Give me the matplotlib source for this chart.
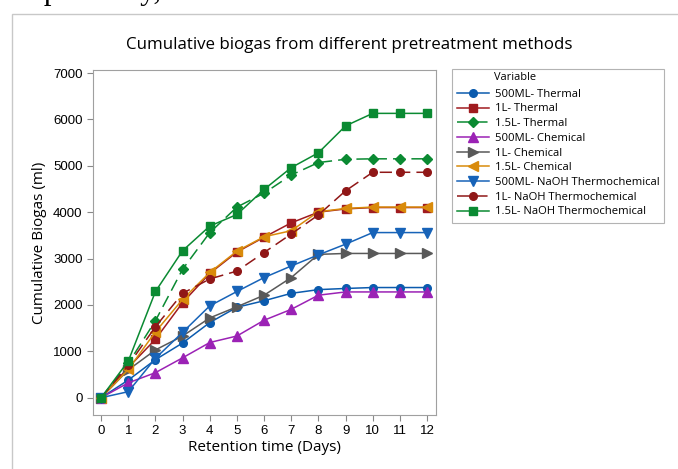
import numpy as np
import matplotlib.pyplot as plt
from matplotlib.patches import Rectangle

# retention time (days)
days = list(range(13))

# cumulative biogas (ml)
thermal_500 = [0, 380, 820, 1180, 1620, 1950, 2090, 2250, 2330, 2355, 2375, 2375, 2375]
thermal_1l = [0, 650, 1260, 2050, 2680, 3140, 3460, 3770, 4000, 4070, 4100, 4100, 4100]
thermal_15l = [0, 740, 1660, 2770, 3560, 4110, 4410, 4800, 5070, 5140, 5150, 5150, 5150]
chem_500 = [0, 320, 540, 860, 1190, 1330, 1670, 1905, 2210, 2280, 2280, 2280, 2280]
chem_1l = [0, 600, 1030, 1330, 1720, 1960, 2210, 2590, 3090, 3110, 3110, 3110, 3110]
chem_15l = [0, 610, 1420, 2120, 2700, 3160, 3470, 3600, 4010, 4080, 4110, 4110, 4110]
naoh_500 = [0, 130, 850, 1410, 1980, 2290, 2590, 2840, 3080, 3310, 3560, 3560, 3560]
naoh_1l = [0, 700, 1530, 2250, 2560, 2730, 3130, 3530, 3940, 4460, 4860, 4860, 4860]
naoh_15l = [0, 790, 2290, 3170, 3700, 3950, 4490, 4960, 5280, 5860, 6130, 6130, 6130]

series = [
    ('500ML- Thermal', thermal_500, '#0B5BAE', 'o', '-'),
    ('1L- Thermal', thermal_1l, '#A01B1F', 's', '-'),
    ('1.5L- Thermal', thermal_15l, '#0A8A32', 'D', (0, (8, 4))),
    ('500ML- Chemical', chem_500, '#9B22B5', '^', '-'),
    ('1L- Chemical', chem_1l, '#595959', '>', '-'),
    ('1.5L- Chemical', chem_15l, '#D98B0B', '<', '-'),
    ('500ML- NaOH Thermochemical', naoh_500, '#1763B8', 'v', '-'),
    ('1L- NaOH Thermochemical', naoh_1l, '#901717', 'o', (0, (8, 4))),
    ('1.5L- NaOH Thermochemical', naoh_15l, '#0A8A32', 's', '-'),
]

plt.rcParams['font.family'] = ['Open Sans', 'DejaVu Sans']

W, H = 678, 469
fig = plt.figure(figsize=(W / 100, H / 100), dpi=100)
ax = fig.add_axes([93 / W, 1 - 415 / H, (436 - 93) / W, (415 - 70) / H])

# page frame and the cut-off line of text above the figure
fig.patches.append(Rectangle((12 / W, -0.1), 1.1, 1 - 14 / H + 0.1,
                             transform=fig.transFigure, fill=False,
                             edgecolor='#c8c8c8', lw=1))
fig.text(33 / W, 1 + 1 / H, 'spectively,', family='Liberation Serif',
         fontsize=22, va='baseline')

for name, vals, col, mk, ls in series:
    ms = 5.5 if mk in ('D', 's', 'o') else 6.5
    ax.plot(days, vals, color=col, marker=mk, markersize=ms, lw=1.1,
            linestyle=ls, label=name)

ax.set_xlim(-0.3, 12.33)
ax.set_ylim(-373, 7065)
ax.set_xticks(days)
ax.set_yticks(np.arange(0, 7001, 1000))
ax.tick_params(direction='out', length=4, color='#888888', labelsize=9.5)
for lab in ax.get_xticklabels() + ax.get_yticklabels():
    lab.set_family('Liberation Sans')
for sp in ax.spines.values():
    sp.set_color('#a0a0a0')

ax.set_xlabel('Retention time (Days)', fontsize=11, labelpad=2)
ax.set_ylabel('Cumulative Biogas (ml)', fontsize=11, labelpad=4)
fig.text(349 / W, 1 - 45 / H, 'Cumulative biogas from different pretreatment methods',
         ha='center', va='center', fontsize=12.2)

leg = ax.legend(loc='upper left', bbox_to_anchor=(452 / W, 1 - 69 / H),
                bbox_transform=fig.transFigure, title=' ', fontsize=8.1,
                title_fontsize=7.9, frameon=True, fancybox=False, handlelength=2.8,
                labelspacing=0.33, borderpad=0.45, handletextpad=0.55,
                borderaxespad=0)
leg.get_frame().set_edgecolor('#a0a0a0')
leg.get_frame().set_linewidth(0.8)
leg._legend_box.align = 'left'
# legend heading sits over the label column
fig.text(494 / W, 1 - 78 / H, 'Variable', fontsize=7.9, va='center')

fig.savefig('out.png', dpi=100)
